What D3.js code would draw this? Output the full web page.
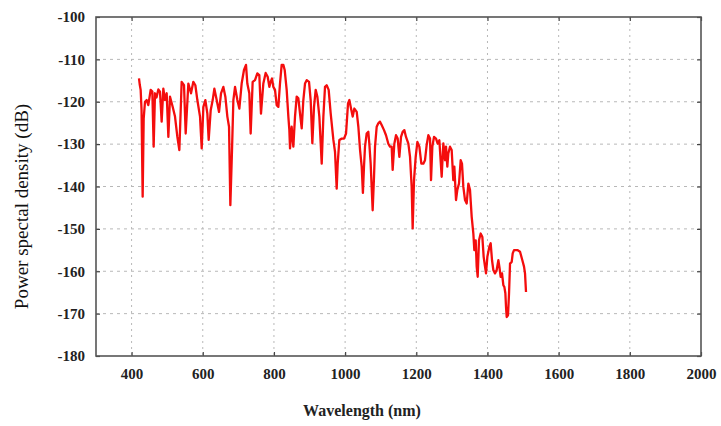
<!DOCTYPE html>
<html>
<head>
<meta charset="utf-8">
<script src="https://cdn.jsdelivr.net/npm/d3@7/dist/d3.min.js"></script>
<style>
  html, body { margin: 0; padding: 0; background: #fff; }
  svg { display: block; }
</style>
</head>
<body>
<svg id="chart" width="721" height="426"></svg>
<script>
// Spectrum: wavelength (nm) and power spectral density (dB)
const wavelength = [
  420.8, 423, 425.5, 428, 431.1, 434, 437.7, 442.4, 447, 453.6, 458.3, 462, 465.8, 470, 475.2, 479.8,
  484.5, 489.2, 493.9, 498.6, 503.3, 508, 515.4, 522, 528.6, 534.2, 540.7, 547.3, 552, 559.5, 567,
  573.5, 579.2, 584.8, 592.3, 597, 601.7, 607.3, 612.9, 616.6, 622.3, 627.9, 632.6, 639.1, 645.7,
  651.3, 657.9, 663.5, 669.1, 673.8, 677.5, 682.2, 686, 690.7, 697.2, 702.8,
  709.3, 715.8, 721.5, 725.2, 730.8, 734.6, 740.2, 746.8, 753.3, 758.9, 763.6, 770.2, 776.7, 782.4,
  787.1, 790.8, 794.6, 798.3, 803, 807.7, 812.4, 817, 821.7, 826.4, 830.2, 835.8, 840.5, 843.3,
  845.2, 849.8, 854.5, 859.2, 863.9, 868.6, 873.3, 878, 882.6, 887.3, 892, 898.6, 903.2, 907.9,
  912.6, 917.3, 922, 927.6, 934.2, 938.9, 943.5, 948.2, 953.8, 959.5, 967, 971.6, 976.3, 979.1,
  983.8, 990.4, 996.9, 1002.6, 1008.2, 1011.9, 1016.6, 1021.3, 1026, 1032.6, 1037.2, 1042, 1046.6,
  1050, 1053, 1055.9, 1060.5, 1065.2, 1068, 1071.8, 1077.4, 1081.2, 1084, 1088.7, 1093.3, 1098,
  1102.7, 1109.3, 1114.9, 1121.4, 1126.1, 1130.8, 1133.6, 1138.3, 1143, 1147.7, 1152.4, 1157.1,
  1161.7, 1166.4, 1171.1, 1177.7, 1182.4, 1187, 1189.8, 1193.6, 1198.3, 1203, 1208.6, 1214.2,
  1219.8, 1224.5, 1229.2, 1233.9, 1238.6, 1241.4, 1245.1, 1249.8, 1255.4, 1260.1, 1264.8,
  1271.3, 1276, 1280.7, 1283.5, 1287.2, 1290, 1294.7, 1299.4, 1304, 1306.9, 1311.6, 1315.3, 1320,
  1324.7, 1328.4, 1332.2, 1336.9, 1341.6, 1346.3, 1350.9, 1355.6, 1360.3, 1363.1, 1366.9, 1369.7,
  1372.5, 1376.2, 1380.9, 1385.6, 1389.3, 1393.1, 1395.9, 1399.7, 1405.3, 1409, 1412.8, 1416.5,
  1421.2, 1425.9, 1430.6, 1433.4, 1437.1, 1440.9, 1444.6, 1447.4, 1450.3, 1452.1, 1454, 1457.7,
  1460.6, 1463.4, 1468.1, 1470.9, 1474.6, 1484, 1491.5, 1498, 1502.7, 1505.5, 1508.3
];
const psd = [
  -114.5, -116, -117.2, -122, -142.4, -124, -120.0, -119.6, -120.8, -117.2, -117.6, -130.6, -118.0, -119, -117.1, -117.6,
  -124.7, -116.9, -119.6, -118.0, -128.3, -118.8, -121.2, -123.5, -128.3, -131.4, -115.3, -116.1, -127.5, -115.7, -118.0,
  -115.3, -116.1, -119.6, -123.5, -131.0, -121.2, -119.6, -122.8, -129.0, -122.0, -119.6, -116.9, -119.6, -122.4,
  -118.0, -116.5, -118.8, -123.5, -125.9, -144.4, -131.4, -119.6, -116.5, -119.6, -121.6,
  -115.7, -112.5, -111.3, -115.7, -118.0, -127.5, -115.3, -114.9, -113.3, -113.7, -122.8, -115.7, -113.2, -114.1,
  -116.5, -115.3, -114.5, -116.5, -117.2, -120.8, -121.2, -115.7, -111.3, -111.3, -112.5, -117.2, -123.5, -126.7,
  -131.0, -125.9, -130.6, -123.5, -118.8, -119.2, -122.8, -126.3, -119.6, -115.7, -114.9, -115.3, -119.6, -129.8,
  -121.2, -117.2, -118.8, -123.5, -134.6, -123.5, -116.5, -116.1, -117.2, -122.8, -129.0, -131.8, -140.5, -134.6,
  -129.0, -128.7, -128.7, -127.5, -120.4, -119.6, -121.6, -123.5, -121.6, -122.4, -125.9, -131.4, -135.3,
  -141.5, -135.4, -130.6, -127.5, -127.1, -129.9, -134.6, -145.6, -137.7, -130.6, -125.9, -125.1, -124.7,
  -125.5, -126.7, -127.9, -129.9, -130.6, -130.6, -136.1, -129.9, -127.9, -128.7, -133.0, -128.3,
  -127.1, -126.7, -128.3, -129.9, -133.0, -140.1, -149.9, -138.5, -133.0, -129.5, -130.6, -134.6,
  -134.6, -133.8, -130.2, -127.9, -128.7, -138.5, -130.6, -128.3, -128.7, -129.9, -129.1,
  -137.7, -129.8, -133.8, -130.6, -135.3, -132.2, -130.6, -131.4, -138.5, -135.3, -143.2, -140.8, -139.3,
  -133.8, -134.6, -140.1, -143.2, -144.0, -139.3, -140.8, -147.1, -151.1, -155.0, -152.7, -158.9,
  -161.3, -152.7, -151.1, -151.9, -156.6, -158.9, -160.5, -156.6, -154.2, -153.4, -157.4, -159.7,
  -160.5, -159.7, -157.4, -158.9, -161.3, -160.5, -163.3, -163.7, -165.2, -168.4, -170.8, -170.4,
  -165.2, -158.2, -157.8, -155.8, -155.0, -155.0, -155.4, -157.4, -158.9, -160.5, -164.9
];
const xTicks = [400, 600, 800, 1000, 1200, 1400, 1600, 1800, 2000];
const yTicks = [-180, -170, -160, -150, -140, -130, -120, -110, -100];

const margin = { left: 96, top: 17 };
const pw = 605, ph = 339;

const svg = d3.select('#chart');
const g = svg.append('g').attr('transform', `translate(${margin.left},${margin.top})`);

const x = d3.scaleLinear().domain([300, 2000]).range([0, pw]);
const y = d3.scaleLinear().domain([-180, -100]).range([ph, 0]);

// Dashed grid
const grid = g.append('g').attr('class', 'grid');
grid.selectAll('line.vx').data(xTicks.filter(d => d < 2000)).join('line')
  .attr('x1', d => x(d)).attr('x2', d => x(d))
  .attr('y1', 0).attr('y2', ph)
  .attr('stroke', '#b8b8b8').attr('stroke-width', 1)
  .attr('stroke-dasharray', '2,4');
grid.selectAll('line.hy').data(yTicks.filter(d => d > -180 && d < -100)).join('line')
  .attr('x1', 0).attr('x2', pw)
  .attr('y1', d => y(d)).attr('y2', d => y(d))
  .attr('stroke', '#b8b8b8').attr('stroke-width', 1)
  .attr('stroke-dasharray', '3,4');

// Plain hyphen for negative tick values
const fmt = d => String(d);

// Axes with inward ticks
const fontTick = '"Liberation Serif", "Times New Roman", serif';
const xAxis = g.append('g').attr('transform', `translate(0,${ph})`)
  .call(d3.axisBottom(x).tickValues(xTicks).tickSize(-4).tickPadding(12).tickFormat(fmt));
const yAxis = g.append('g')
  .call(d3.axisLeft(y).tickValues(yTicks).tickSize(-4).tickPadding(11).tickFormat(fmt));
const xTop = g.append('g')
  .call(d3.axisTop(x).tickValues(xTicks).tickSize(-4).tickFormat(''));
const yRight = g.append('g').attr('transform', `translate(${pw},0)`)
  .call(d3.axisRight(y).tickValues(yTicks).tickSize(-4).tickFormat(''));

[xAxis, yAxis, xTop, yRight].forEach(a => {
  a.select('.domain').remove();
  a.selectAll('.tick line').attr('stroke', '#444').attr('stroke-width', 1.2);
  a.selectAll('.tick text')
    .attr('font-family', fontTick).attr('font-weight', 'bold')
    .attr('font-size', 15).attr('fill', '#222');
});

// Frame
g.append('rect').attr('x', 0).attr('y', 0).attr('width', pw).attr('height', ph)
  .attr('fill', 'none').attr('stroke', '#555').attr('stroke-width', 1.6);

// Spectrum trace
const pts = wavelength.map((w, i) => [w, psd[i]]);
g.append('path').datum(pts)
  .attr('fill', 'none').attr('stroke', '#f40d0d').attr('stroke-width', 2.3)
  .attr('stroke-linejoin', 'round')
  .attr('d', d3.line().x(d => x(d[0])).y(d => y(d[1])));

// Axis titles
svg.append('text')
  .attr('x', 362).attr('y', 416)
  .attr('text-anchor', 'middle')
  .attr('font-family', fontTick).attr('font-weight', 'bold').attr('font-size', 16)
  .attr('fill', '#222')
  .text('Wavelength (nm)');
svg.append('text')
  .attr('transform', `translate(28,${margin.top + ph / 2 + 20}) rotate(-90)`)
  .attr('text-anchor', 'middle')
  .attr('font-family', fontTick).attr('font-size', 19)
  .attr('fill', '#111')
  .text('Power spectal density (dB)');
</script>
</body>
</html>
